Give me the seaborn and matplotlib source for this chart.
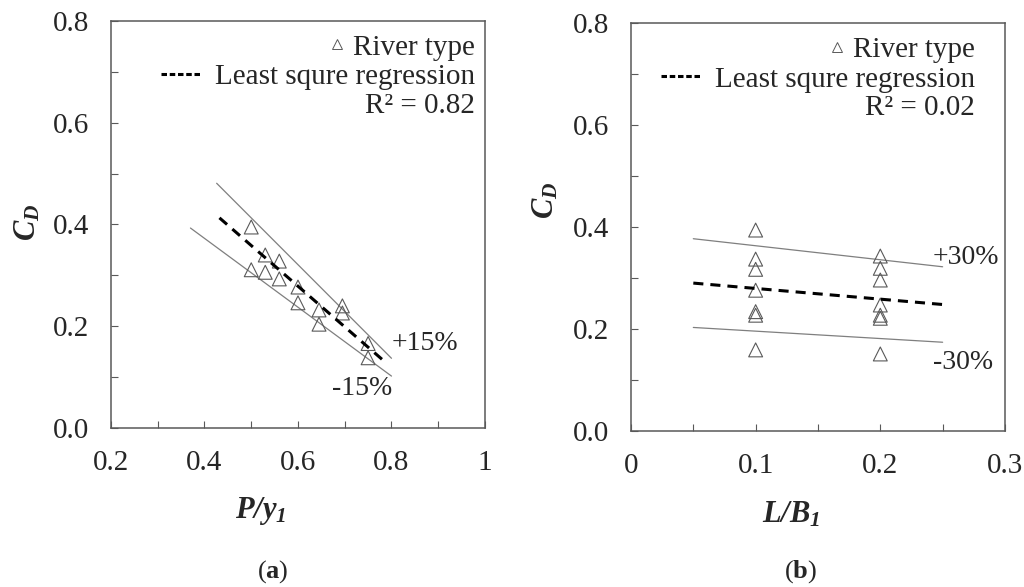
import matplotlib
matplotlib.use("Agg")
import matplotlib.pyplot as plt
from matplotlib.lines import Line2D
import seaborn as sns
import pandas as pd

# (a) drag coefficient vs P/y1
p_y1 = [0.50, 0.53, 0.56, 0.50, 0.53, 0.56, 0.60, 0.60, 0.645, 0.695, 0.695, 0.645, 0.75, 0.75]
cd_a = [0.395, 0.340, 0.328, 0.311, 0.306, 0.293, 0.277, 0.246, 0.232, 0.240, 0.226, 0.204, 0.166, 0.138]
fit_a_x = [0.432, 0.781]
fit_a_y = [0.413, 0.134]
up_a_x = [0.426, 0.800]
up_a_y = [0.481, 0.137]
lo_a_x = [0.370, 0.800]
lo_a_y = [0.393, 0.102]
r2_a = "0.82"

# (b) drag coefficient vs L/B1
l_b1 = [0.1] * 7 + [0.2] * 7
cd_b = [0.394, 0.337, 0.317, 0.276, 0.234, 0.227, 0.159,
        0.343, 0.319, 0.296, 0.247, 0.227, 0.221, 0.151]
fit_b_x = [0.05, 0.25]
fit_b_y = [0.290, 0.248]
up_b_x = [0.05, 0.25]
up_b_y = [0.377, 0.322]
lo_b_x = [0.05, 0.25]
lo_b_y = [0.203, 0.174]
r2_b = "0.02"

sns.set_style("ticks")
plt.rcParams['font.family'] = ['Liberation Serif', 'DejaVu Serif']
plt.rcParams['mathtext.fontset'] = 'custom'
plt.rcParams['mathtext.rm'] = 'Liberation Serif:bold:italic'
plt.rcParams['mathtext.it'] = 'Liberation Serif:bold:italic'
plt.rcParams['mathtext.bf'] = 'Liberation Serif:bold'
plt.rcParams['mathtext.sf'] = 'Liberation Serif'

edge = '#595959'
thin = '#7f7f7f'
dash = (0, (3.3, 2.3))

fig = plt.figure(figsize=(10.24, 5.87), dpi=100)
ax_a = fig.add_axes([0.1084, 0.2709, 0.3652, 0.6934])
ax_b = fig.add_axes([0.6162, 0.2658, 0.3652, 0.6950])


def panel(ax, x, y, fx, fy, ux, uy, lx, ly, r2, leg_x):
    df = pd.DataFrame({'x': x, 'y': y})
    sns.lineplot(x=ux, y=uy, ax=ax, color=thin, lw=0.9)
    sns.lineplot(x=lx, y=ly, ax=ax, color=thin, lw=0.9)
    sns.scatterplot(data=df, x='x', y='y', ax=ax, marker='^', s=100,
                    facecolors='none', edgecolors=edge, linewidths=0.8, zorder=3)
    sns.lineplot(x=fx, y=fy, ax=ax, color='black', lw=2.2, linestyle=dash, zorder=4)

    h1 = Line2D([], [], ls='none', marker='^', ms=7, mfc='none', mec=edge, mew=0.7)
    h2 = Line2D([], [], color='black', lw=2.2, ls=(0, (1.8, 0.9)))
    leg1 = ax.legend([h1], ['River type'], loc='center right', bbox_to_anchor=(leg_x, 0.935),
                     frameon=False, fontsize=21, handlelength=0.6, handletextpad=0.25,
                     borderpad=0, borderaxespad=0)
    ax.add_artist(leg1)
    ax.legend([h2], ['Least squre regression'], loc='center right', bbox_to_anchor=(leg_x, 0.862),
              frameon=False, fontsize=21, handlelength=1.4, handletextpad=0.45,
              borderpad=0, borderaxespad=0)
    ax.text(leg_x, 0.791, 'R\u00b2 = ' + r2, transform=ax.transAxes, ha='right', va='center',
            fontsize=21)

    ax.set_ylim(0, 0.8)
    ax.set_yticks([0.0, 0.2, 0.4, 0.6, 0.8])
    ax.set_yticklabels(['0.0', '0.2', '0.4', '0.6', '0.8'])
    ax.set_yticks([0.1, 0.3, 0.5, 0.7], minor=True)
    ax.tick_params(which='both', direction='in', length=5, width=0.8, color=edge,
                   labelsize=21, top=False, right=False)
    ax.tick_params(axis='x', which='both', pad=16)
    ax.tick_params(axis='y', which='both', pad=16)
    for s in ax.spines.values():
        s.set_color(edge)
        s.set_linewidth(1.1)
    ax.set_ylabel('$C_D$', fontsize=22)


panel(ax_a, p_y1, cd_a, fit_a_x, fit_a_y, up_a_x, up_a_y, lo_a_x, lo_a_y, r2_a, 0.973)
ax_a.set_xlim(0.2, 1.0)
ax_a.set_xticks([0.2, 0.4, 0.6, 0.8, 1.0])
ax_a.set_xticklabels(['0.2', '0.4', '0.6', '0.8', '1'])
ax_a.set_xticks([0.3, 0.5, 0.7, 0.9], minor=True)
ax_a.set_xlabel(r'$\mathit{P/y_1}$', fontsize=22)
ax_a.xaxis.set_label_coords(0.401, -0.165)
ax_a.yaxis.set_label_coords(-0.182, 0.506)
ax_a.text(0.80, 0.167, '+15%', ha='left', va='center', fontsize=20)
ax_a.text(0.802, 0.077, '-15%', ha='right', va='center', fontsize=20)

panel(ax_b, l_b1, cd_b, fit_b_x, fit_b_y, up_b_x, up_b_y, lo_b_x, lo_b_y, r2_b, 0.92)
ax_b.set_xlim(0, 0.3)
ax_b.set_xticks([0, 0.1, 0.2, 0.3])
ax_b.set_xticklabels(['0', '0.1', '0.2', '0.3'])
ax_b.set_xticks([0.05, 0.15, 0.25], minor=True)
ax_b.set_xlabel(r'$\mathit{L/B_1}$', fontsize=22)
ax_b.xaxis.set_label_coords(0.428, -0.169)
ax_b.yaxis.set_label_coords(-0.188, 0.566)
ax_b.text(0.242, 0.341, '+30%', ha='left', va='center', fontsize=20)
ax_b.text(0.242, 0.135, '-30%', ha='left', va='center', fontsize=20)

fig.text(0.2666, 0.026, r'$\mathsf{(}\mathbf{a}\mathsf{)}$', ha='center', va='center', fontsize=19)
fig.text(0.7813, 0.026, r'$\mathsf{(}\mathbf{b}\mathsf{)}$', ha='center', va='center', fontsize=19)

fig.savefig('out.png', dpi=100)
